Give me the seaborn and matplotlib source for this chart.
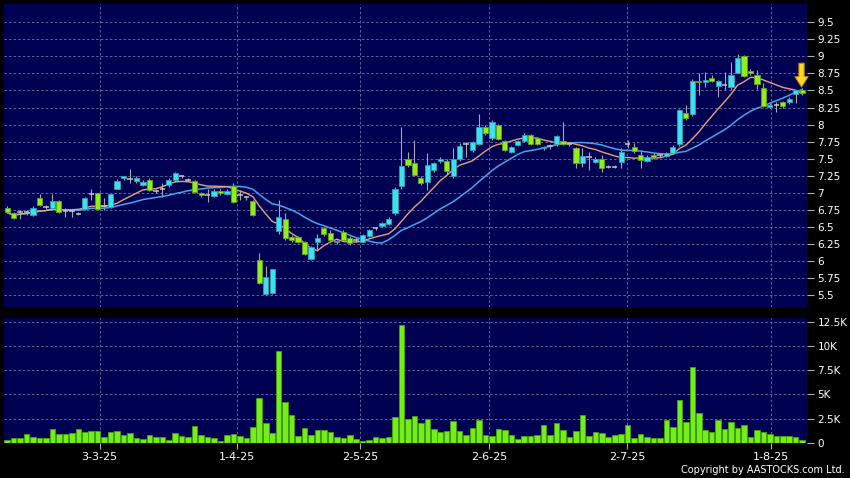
import numpy as np
import pandas as pd
import matplotlib
matplotlib.use("Agg")
import matplotlib.pyplot as plt
import seaborn as sns

# ---------------- data ----------------
opens = [6.78, 6.70, 6.72, 6.72, 6.67, 6.92, 6.79, 6.78, 6.88, 6.73,
         6.73, 6.69, 6.755, 6.975, 6.99, 6.80, 6.79, 7.06, 7.21, 7.20,
         7.17, 7.12, 7.19, 7.02, 7.06, 7.11, 7.18, 7.24, 7.19, 7.175,
         6.99, 6.97, 6.95, 7.03, 6.98, 7.10, 6.97, 6.93, 6.88, 6.01,
         5.51, 5.53, 6.44, 6.62, 6.35, 6.35, 6.27, 6.03, 6.27, 6.48,
         6.41, 6.27, 6.43, 6.34, 6.31, 6.28, 6.36, 6.48, 6.51, 6.54,
         6.70, 7.10, 7.50, 7.43, 7.21, 7.16, 7.33, 7.46, 7.46, 7.24,
         7.49, 7.71, 7.62, 7.72, 7.97, 7.80, 7.99, 7.76, 7.60, 7.70,
         7.76, 7.84, 7.80, 7.65, 7.69, 7.71, 7.76, 7.72, 7.65, 7.44,
         7.53, 7.45, 7.50, 7.38, 7.38, 7.45, 7.72, 7.67, 7.56, 7.47,
         7.56, 7.55, 7.54, 7.59, 7.71, 8.17, 8.15, 8.64, 8.63, 8.69,
         8.57, 8.58, 8.55, 8.76, 9.00, 8.79, 8.73, 8.53, 8.26, 8.29,
         8.33, 8.33, 8.45, 8.51]
highs = [6.80, 6.72, 6.75, 6.74, 6.80, 6.98, 6.82, 6.98, 6.90, 6.77,
         6.76, 6.71, 6.94, 7.05, 7.00, 6.92, 6.98, 7.20, 7.25, 7.35,
         7.24, 7.18, 7.22, 7.05, 7.14, 7.21, 7.31, 7.26, 7.22, 7.19,
         7.01, 7.06, 7.05, 7.05, 7.06, 7.14, 7.04, 6.95, 6.90, 6.11,
         5.92, 5.88, 6.89, 6.70, 6.38, 6.37, 6.29, 6.22, 6.40, 6.50,
         6.45, 6.31, 6.45, 6.36, 6.34, 6.40, 6.47, 6.50, 6.57, 6.64,
         7.08, 7.96, 7.60, 7.77, 7.24, 7.58, 7.45, 7.52, 7.50, 7.65,
         7.73, 7.75, 7.76, 8.15, 7.99, 8.06, 8.01, 7.78, 7.69, 7.78,
         7.87, 7.86, 7.82, 7.69, 7.71, 7.85, 8.04, 7.75, 7.67, 7.65,
         7.60, 7.53, 7.55, 7.40, 7.40, 7.65, 7.77, 7.73, 7.62, 7.55,
         7.58, 7.57, 7.60, 7.70, 8.23, 8.28, 8.67, 8.75, 8.77, 8.72,
         8.66, 8.77, 8.92, 9.03, 9.02, 8.81, 8.80, 8.61, 8.31, 8.33,
         8.35, 8.40, 8.50, 8.53]
lows = [6.70, 6.62, 6.62, 6.68, 6.66, 6.80, 6.76, 6.75, 6.70, 6.65,
        6.65, 6.67, 6.74, 6.90, 6.75, 6.75, 6.77, 7.05, 7.19, 7.14,
        7.15, 7.10, 7.03, 7.00, 6.93, 7.09, 7.16, 7.22, 7.17, 7.00,
        6.94, 6.86, 6.93, 6.97, 6.96, 6.85, 6.90, 6.90, 6.66, 5.66,
        5.50, 5.52, 6.40, 6.30, 6.28, 6.26, 6.08, 6.01, 6.14, 6.37,
        6.29, 6.25, 6.29, 6.24, 6.28, 6.27, 6.35, 6.46, 6.49, 6.53,
        6.68, 7.05, 7.38, 7.24, 7.12, 7.04, 7.30, 7.44, 7.28, 7.22,
        7.47, 7.53, 7.60, 7.70, 7.85, 7.78, 7.77, 7.61, 7.58, 7.68,
        7.74, 7.70, 7.70, 7.62, 7.64, 7.69, 7.70, 7.69, 7.36, 7.38,
        7.33, 7.43, 7.31, 7.36, 7.36, 7.36, 7.65, 7.58, 7.36, 7.45,
        7.50, 7.52, 7.52, 7.57, 7.69, 8.06, 8.13, 8.43, 8.55, 8.62,
        8.41, 8.50, 8.50, 8.75, 8.70, 8.73, 8.52, 8.26, 8.24, 8.19,
        8.24, 8.30, 8.31, 8.44]
closes = [6.71, 6.63, 6.72, 6.72, 6.78, 6.82, 6.79, 6.88, 6.71, 6.73,
          6.73, 6.69, 6.92, 6.975, 6.76, 6.80, 6.975, 7.17, 7.24, 7.20,
          7.22, 7.16, 7.04, 7.02, 7.06, 7.19, 7.29, 7.24, 7.19, 7.01,
          6.96, 6.97, 7.03, 6.99, 7.03, 6.86, 6.97, 6.93, 6.67, 5.67,
          5.77, 5.88, 6.64, 6.33, 6.31, 6.28, 6.10, 6.20, 6.33, 6.39,
          6.31, 6.29, 6.31, 6.26, 6.31, 6.38, 6.45, 6.48, 6.56, 6.62,
          7.05, 7.39, 7.40, 7.26, 7.15, 7.41, 7.43, 7.50, 7.32, 7.49,
          7.68, 7.71, 7.74, 7.97, 7.87, 8.04, 7.79, 7.63, 7.67, 7.76,
          7.85, 7.72, 7.72, 7.67, 7.69, 7.83, 7.71, 7.72, 7.43, 7.54,
          7.53, 7.50, 7.37, 7.38, 7.38, 7.60, 7.72, 7.61, 7.48, 7.53,
          7.52, 7.55, 7.59, 7.67, 8.21, 8.10, 8.64, 8.62, 8.66, 8.64,
          8.64, 8.58, 8.72, 8.97, 8.71, 8.75, 8.60, 8.27, 8.29, 8.29,
          8.27, 8.38, 8.50, 8.46]
volumes = [310, 516, 516, 963, 620, 550, 550, 1445, 930, 930,
           1067, 1445, 1100, 1240, 1240, 654, 1135, 1240, 860, 1000,
           516, 447, 790, 585, 654, 344, 1030, 757, 585, 1790,
           826, 585, 516, 206, 826, 963, 757, 550, 1650, 4650,
           2030, 1067, 9500, 4230, 2920, 720, 1580, 826, 1340, 1340,
           1100, 585, 516, 826, 380, 240, 344, 585, 516, 654,
           2690, 12200, 2440, 2790, 2030, 2480, 1410, 1100, 1240, 2270,
           1275, 826, 1515, 2410, 860, 720, 1410, 1375, 790, 413,
           757, 720, 826, 1860, 860, 2100, 1340, 585, 1275, 2890,
           690, 1100, 1000, 654, 790, 894, 1825, 516, 930, 585,
           516, 516, 2410, 1650, 4440, 2200, 7850, 3060, 1340, 1135,
           2340, 1480, 2170, 1580, 1825, 620, 1340, 1135, 930, 757,
           757, 690, 620, 344]

x_tick_labels = ["3-3-25", "1-4-25", "2-5-25", "2-6-25", "2-7-25", "1-8-25"]
x_tick_pos = [14.3, 35.5, 54.6, 74.6, 95.9, 118.2]
price_ticks = [5.5, 5.75, 6.0, 6.25, 6.5, 6.75, 7.0, 7.25, 7.5, 7.75,
               8.0, 8.25, 8.5, 8.75, 9.0, 9.25, 9.5]
vol_ticks = [0, 2500, 5000, 7500, 10000, 12500]
vol_tick_labels = ["0", "2.5K", "5K", "7.5K", "10K", "12.5K"]

# ---------------- frame ----------------
df = pd.DataFrame({"open": opens, "high": highs, "low": lows,
                   "close": closes, "volume": volumes})
df["idx"] = np.arange(len(df))
df["ma10"] = df["close"].rolling(10, min_periods=1).mean()
df["ma20"] = df["close"].rolling(20, min_periods=1).mean()

# ---------------- style ----------------
BG = "black"
PANEL = "#000052"
GRID = "#7474a6"
CYAN = "#3ee0f0"
CYAN_E = "#2aa0b0"
GREEN = "#92ec1e"
GREEN_E = "#5fa812"
WICK = "#a8a8a8"
VOL = "#74ee18"
VOL_E = "#44a00c"

W, H = 850, 478
fig = plt.figure(figsize=(W / 100, H / 100), dpi=100, facecolor=BG)
L, R = 4, 806.7
ax1 = fig.add_axes([L / W, 1 - 306.7 / H, (R - L) / W, (306.7 - 3.5) / H])
ax2 = fig.add_axes([L / W, 1 - 443 / H, (R - L) / W, (443 - 318.3) / H])

for ax in (ax1, ax2):
    ax.set_facecolor(PANEL)
    for s in ax.spines.values():
        s.set_visible(False)
    ax.set_axisbelow(True)
    ax.grid(True, color=GRID, linestyle=(0, (3, 2.5)), linewidth=0.6)

# ---------------- price panel ----------------
up = df[df["close"] > df["open"]]
dn = df[df["close"] < df["open"]]
eq = df[df["close"] == df["open"]]

ax1.vlines(df["idx"], df["low"], df["high"], color=WICK, linewidth=0.8, zorder=2.6)
sns.lineplot(data=df, x="idx", y="ma20", ax=ax1, color="#44a6ee",
             linewidth=1.1, zorder=2.7)
sns.lineplot(data=df, x="idx", y="ma10", ax=ax1, color="#e8a07c",
             linewidth=1.0, zorder=2.8)
ax1.bar(up["idx"], up["close"] - up["open"], bottom=up["open"], width=0.8,
        color=CYAN, edgecolor=CYAN_E, linewidth=0.6, zorder=3)
ax1.bar(dn["idx"], dn["open"] - dn["close"], bottom=dn["close"], width=0.8,
        color=GREEN, edgecolor=GREEN_E, linewidth=0.6, zorder=3)
ax1.hlines(eq["open"], eq["idx"] - 0.42, eq["idx"] + 0.42, color="#c4c4c4",
           linewidth=1.1, zorder=3)

ax1.set_xlim(-0.495, 123.7)
ax1.set_ylim(5.328, 9.776)
ax1.set_yticks(price_ticks)
ax1.set_yticklabels([f"{v:g}" for v in price_ticks])
ax1.set_xticks(x_tick_pos)
ax1.tick_params(axis="x", length=0, labelbottom=False)
ax1.yaxis.tick_right()
ax1.tick_params(axis="y", colors="#b0b0b0", labelcolor="white", length=4.7,
                width=0.8, pad=3, labelsize=7.5)
ax1.set_xlabel("")
ax1.set_ylabel("")

# arrow marking the latest bar
ax1.annotate("", xy=(122.9, 8.55), xytext=(122.9, 8.90),
             arrowprops=dict(arrowstyle="simple,head_length=0.75,head_width=0.95,tail_width=0.38",
                             fc="#ffd820", ec="#c88a00", lw=0.7,
                             shrinkA=0, shrinkB=0, mutation_scale=10),
             zorder=5)

# ---------------- volume panel ----------------
sns.barplot(data=df, x="idx", y="volume", ax=ax2, native_scale=True,
            width=0.86, color=VOL, edgecolor=VOL_E, linewidth=0.6,
            errorbar=None, saturation=1, zorder=3)
ax2.set_xlim(-0.495, 123.7)
ax2.set_ylim(0, 12850)
ax2.set_yticks(vol_ticks)
ax2.set_yticklabels(vol_tick_labels)
ax2.set_xticks(x_tick_pos)
ax2.set_xticklabels(x_tick_labels)
ax2.yaxis.tick_right()
ax2.tick_params(axis="y", colors="#b0b0b0", labelcolor="white", length=4.7,
                width=0.8, pad=3, labelsize=7.5)
ax2.tick_params(axis="x", colors="#b0b0b0", labelcolor="white", length=4,
                width=0.8, pad=2.5, labelsize=8)
ax2.set_xlabel("")
ax2.set_ylabel("")

fig.text(845 / W, 1 - 470 / H, "Copyright by AASTOCKS.com Ltd.", color="white",
         fontsize=7, ha="right", va="center")

fig.savefig("out.png", dpi=100, facecolor=BG)
